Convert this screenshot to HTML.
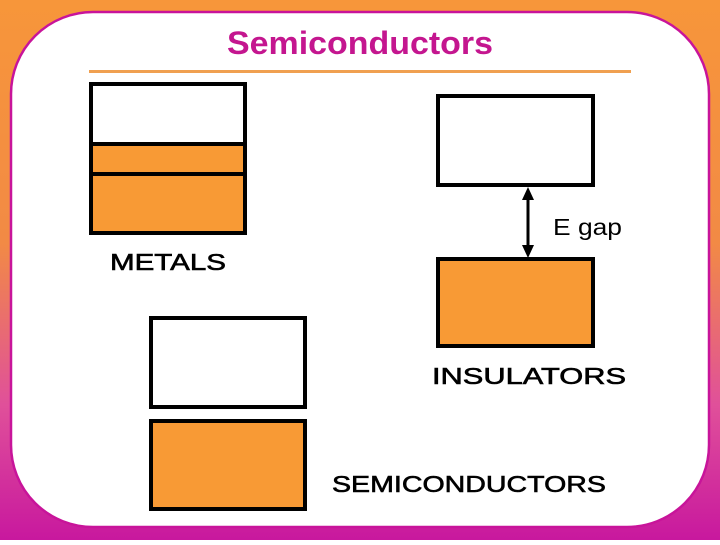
<!DOCTYPE html>
<html><head><style>
html,body{margin:0;padding:0;}
body{width:720px;height:540px;overflow:hidden;}
</style></head><body>
<svg width="720" height="540" xmlns="http://www.w3.org/2000/svg">
<defs>
<linearGradient id="bg" x1="0" y1="0" x2="0" y2="1">
<stop offset="0" stop-color="#f7963a"/>
<stop offset="0.45" stop-color="#f28a45"/>
<stop offset="0.75" stop-color="#e0509a"/>
<stop offset="1" stop-color="#c8189e"/>
</linearGradient>
</defs>
<rect x="0" y="0" width="720" height="540" fill="url(#bg)"/>
<rect x="11" y="12" width="698" height="515" rx="82" ry="82" fill="#fff" stroke="#c8149a" stroke-width="2.5"/>
<text x="227" y="54" textLength="266" lengthAdjust="spacingAndGlyphs" font-family="Liberation Sans, sans-serif" font-weight="bold" font-size="32" fill="#c4168f">Semiconductors</text>
<rect x="89" y="70" width="542" height="3" fill="#f0a050"/>
<g stroke="#000" stroke-width="4">
<rect x="91" y="84" width="154" height="60" fill="#fff"/>
<rect x="91" y="144" width="154" height="30" fill="#f89a35"/>
<rect x="91" y="174" width="154" height="59" fill="#f89a35"/>
<rect x="438" y="96" width="155" height="89" fill="#fff"/>
<rect x="438" y="259" width="155" height="87" fill="#f89a35"/>
<rect x="151" y="318" width="154" height="89" fill="#fff"/>
<rect x="151" y="421" width="154" height="88" fill="#f89a35"/>
<line x1="528" y1="198" x2="528" y2="246" stroke-width="3"/>
</g>
<polygon points="528,187 522,200 534,200" fill="#000"/>
<polygon points="528,258 522,245 534,245" fill="#000"/>
<g font-family="Liberation Sans, sans-serif" font-size="23" fill="#000" stroke="#000" stroke-width="0.6">
<text x="110" y="270" textLength="116" lengthAdjust="spacingAndGlyphs">METALS</text>
<text x="553" y="235" textLength="69" lengthAdjust="spacingAndGlyphs" stroke-width="0">E gap</text>
<text x="432" y="384" textLength="194" lengthAdjust="spacingAndGlyphs">INSULATORS</text>
<text x="332" y="492" textLength="274" lengthAdjust="spacingAndGlyphs">SEMICONDUCTORS</text>
</g>
</svg>
</body></html>
